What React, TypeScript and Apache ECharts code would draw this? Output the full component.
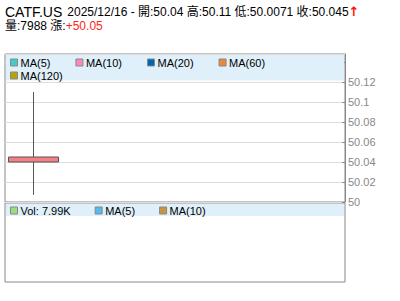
import React, { useEffect, useRef } from "react";
import * as echarts from "echarts";

// ---- data ----
const ticker = "CATF.US";
const dates = ["2025/12/16"];
const opens = [50.04];
const highs = [50.11];
const lows = [50.0071];
const closes = [50.045];
const volumes = [7988];
const changes = [50.05];
const emptySlots = ["", "", "", "", ""];
const categories = [...dates, ...emptySlots];

const priceMAs = ["MA(5)", "MA(10)", "MA(20)", "MA(60)", "MA(120)"];
const priceMAColors = ["#44cccc", "#ff88bb", "#0066b3", "#e8883c", "#b8a400"];
const volMAs = ["MA(5)", "MA(10)"];
const volMAColors = ["#55bbee", "#c89444"];
const volColor = "#9ddc7c";

const yMin = 50;
const yMax = 50.148;
const yInterval = 0.02;
const yLabelMax = 50.12;

const FONT = "'Liberation Sans', Arial, 'Noto Sans CJK TC', sans-serif";

export default function App() {
  const ref = useRef<HTMLDivElement>(null);
  useEffect(() => {
    if (!ref.current) return;
    const chart = echarts.init(ref.current, null, { renderer: "svg" });
    const last = dates.length - 1;
    const volLabel = "Vol: " + (volumes[last] / 1000).toFixed(2) + "K";
    const empty = categories.map(() => null);
    const candleData = categories.map((_, i) =>
      i < dates.length ? [opens[i], closes[i], lows[i], highs[i]] : "-"
    );
    const titleText =
      `{a|${ticker}} {b|${dates[last]} - 開:${opens[last]} 高:${highs[last]} 低:${lows[last]} 收:${closes[last]}}{arr|↑}\n` +
      `{b|量:${volumes[last]} 漲:}{r|+${changes[last]}}`;

    const legendCommon = {
      icon: "rect",
      itemWidth: 7,
      itemHeight: 7,
      padding: 0,
      selectedMode: false,
      itemStyle: { borderColor: "#888", borderWidth: 1 },
      textStyle: { fontSize: 11, color: "#000", fontFamily: FONT, padding: [0, 0, 0, -2] },
      z: 5,
    };

    chart.setOption({
      animation: false,
      title: {
        left: 5,
        top: 4,
        padding: 0,
        text: titleText,
        textStyle: {
          fontFamily: FONT,
          fontWeight: "normal",
          lineHeight: 14,
          rich: {
            a: { fontSize: 14, color: "#000", fontFamily: FONT, lineHeight: 15 },
            b: { fontSize: 12, color: "#000", fontFamily: FONT, lineHeight: 14 },
            r: { fontSize: 12, color: "#ff2222", fontFamily: FONT, lineHeight: 14 },
            arr: { fontSize: 13, color: "#ff1111", fontFamily: "'DejaVu Sans', sans-serif", fontWeight: "bold", lineHeight: 14 },
          },
        },
      },
      graphic: [
        { type: "rect", z: 1, shape: { x: 6, y: 55, width: 338, height: 25.5 }, style: { fill: "#dff0fa" } },
        { type: "rect", z: 1, shape: { x: 6, y: 204, width: 338, height: 12 }, style: { fill: "#dff0fa" } },
      ],
      legend: [
        { ...legendCommon, left: 10, top: 57, itemGap: 25, data: priceMAs.slice(0, 4) },
        { ...legendCommon, left: 10, top: 70, itemGap: 25, data: priceMAs.slice(4) },
        {
          ...legendCommon,
          left: 10,
          top: 205,
          itemGap: 24,
          data: [volLabel, "VMA5", "VMA10"],
          formatter: (n: string) => (n === "VMA5" ? volMAs[0] : n === "VMA10" ? volMAs[1] : n),
        },
      ],
      grid: [
        { left: 5, right: 55, top: 54, height: 148, show: true, borderColor: "#888", borderWidth: 1, backgroundColor: "#fff" },
        { left: 5, right: 55, top: 203, height: 79, show: true, borderColor: "#888", borderWidth: 1, backgroundColor: "#fff" },
      ],
      xAxis: [
        { type: "category", gridIndex: 0, data: categories, boundaryGap: true, show: false },
        { type: "category", gridIndex: 1, data: categories, boundaryGap: true, show: false },
      ],
      yAxis: [
        {
          type: "value",
          gridIndex: 0,
          position: "right",
          min: yMin,
          max: yMax,
          interval: yInterval,
          axisLine: { show: true, lineStyle: { color: "#888", width: 1 } },
          axisTick: { show: true, inside: true, length: 3, lineStyle: { color: "#888" } },
          axisLabel: {
            color: "#888",
            fontSize: 11,
            fontFamily: FONT,
            margin: 3,
            showMaxLabel: false,
            formatter: (v: number) => (v > yLabelMax + 0.001 ? "" : String(+v.toFixed(4))),
          },
          splitLine: { show: true, lineStyle: { color: "#dddddd", width: 1 } },
        },
        { type: "value", gridIndex: 1, show: false, splitLine: { show: false } },
      ],
      series: [
        {
          type: "candlestick",
          name: ticker,
          xAxisIndex: 0,
          yAxisIndex: 0,
          barWidth: 50,
          z: 3,
          data: candleData,
          itemStyle: {
            color: "#f48084",
            borderColor: "#555",
            color0: "#88cc88",
            borderColor0: "#555",
            borderWidth: 1,
          },
        },
        ...priceMAs.map((n, i) => ({
          type: "line",
          name: n,
          xAxisIndex: 0,
          yAxisIndex: 0,
          data: empty,
          color: priceMAColors[i],
          itemStyle: { color: priceMAColors[i] },
          showSymbol: false,
        })),
        {
          type: "bar",
          name: volLabel,
          xAxisIndex: 1,
          yAxisIndex: 1,
          data: empty,
          itemStyle: { color: volColor },
        },
        ...["VMA5", "VMA10"].map((n, i) => ({
          type: "line",
          name: n,
          xAxisIndex: 1,
          yAxisIndex: 1,
          data: empty,
          color: volMAColors[i],
          itemStyle: { color: volMAColors[i] },
          showSymbol: false,
        })),
      ],
    });
    return () => chart.dispose();
  }, []);
  return <div ref={ref} style={{ width: 400, height: 301, position: "absolute", left: 0, top: 0 }} />;
}
